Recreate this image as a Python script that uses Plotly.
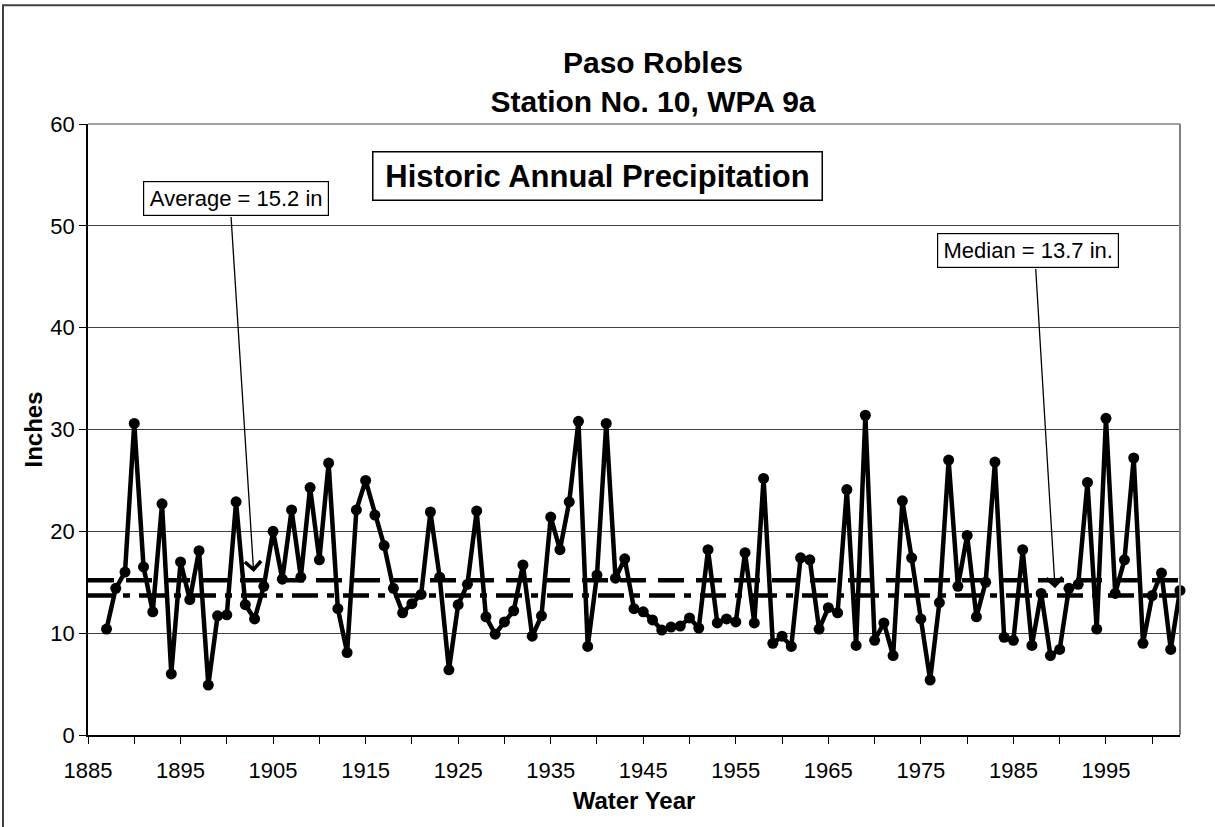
import plotly.graph_objects as go

# ---- data ----
years = list(range(1887, 2004))
precip = [10.4, 14.4, 16.0, 30.6, 16.5, 12.1, 22.7, 6.0, 17.0, 13.3,
          18.1, 4.9, 11.7, 11.8, 22.9, 12.8, 11.4, 14.6, 20.0, 15.3,
          22.1, 15.5, 24.3, 17.2, 26.7, 12.4, 8.1, 22.1, 25.0, 21.6,
          18.6, 14.4, 12.0, 12.9, 13.8, 21.9, 15.5, 6.4, 12.8, 14.8,
          22.0, 11.6, 9.9, 11.1, 12.2, 16.7, 9.7, 11.7, 21.4, 18.2,
          22.9, 30.8, 8.7, 15.7, 30.6, 15.4, 17.3, 12.4, 12.1, 11.3,
          10.3, 10.6, 10.7, 11.5, 10.5, 18.2, 11.0, 11.4, 11.1, 17.9,
          11.0, 25.2, 9.0, 9.7, 8.7, 17.4, 17.2, 10.4, 12.5, 12.0,
          24.1, 8.8, 31.4, 9.3, 11.0, 7.8, 23.0, 17.4, 11.4, 5.4,
          13.0, 27.0, 14.6, 19.6, 11.6, 15.0, 26.8, 9.6, 9.3, 18.2,
          8.8, 13.9, 7.8, 8.4, 14.4, 14.8, 24.8, 10.4, 31.1, 13.9,
          17.2, 27.2, 9.0, 13.7, 15.9, 8.4, 14.2]
average_value = 15.2
median_value = 13.7
x_span = [1885, 2003]
tick_years = [1885, 1890, 1895, 1900, 1905, 1910, 1915, 1920, 1925, 1930, 1935,
              1940, 1945, 1950, 1955, 1960, 1965, 1970, 1975, 1980, 1985, 1990,
              1995, 2000]
tick_labels = [str(y) if (y - 1885) % 10 == 0 else "" for y in tick_years]

FONT = "Liberation Sans, Arial, sans-serif"

fig = go.Figure()

fig.add_trace(go.Scatter(
    x=x_span, y=[average_value, average_value], mode="lines",
    line=dict(color="black", width=4.5, dash="26px,12px"),
    hoverinfo="skip", showlegend=False))
fig.add_trace(go.Scatter(
    x=x_span, y=[median_value, median_value], mode="lines",
    line=dict(color="black", width=4.5, dash="26px,9px,7px,9px"),
    hoverinfo="skip", showlegend=False))
fig.add_trace(go.Scatter(
    x=years, y=precip, mode="lines+markers",
    line=dict(color="black", width=4.5),
    marker=dict(color="black", size=11),
    cliponaxis=False, showlegend=False))

fig.update_layout(
    width=1215, height=827,
    margin=dict(l=88, r=35, t=124, b=92),
    paper_bgcolor="white", plot_bgcolor="white",
    font=dict(family=FONT, color="black", size=22),
    title=dict(text="<b>Paso Robles<br>Station No. 10, WPA 9a</b>",
               font=dict(family=FONT, size=30, color="black"),
               x=(653 - 88) / 1092, xref="paper", xanchor="center",
               y=1 - 73 / 827, yanchor="middle"),
    xaxis=dict(range=x_span, tickmode="array", tickvals=tick_years,
               ticktext=tick_labels, ticks="outside", ticklen=7,
               tickcolor="black", tickwidth=1, ticklabelstandoff=8,
               showline=True, linecolor="black", linewidth=1.5,
               showgrid=False, zeroline=False,
               tickfont=dict(size=22),
               title=dict(text="<b>Water Year</b>", font=dict(size=24),
                          standoff=10)),
    yaxis=dict(range=[0, 60], dtick=10, ticks="outside", ticklen=7,
               tickcolor="black", tickwidth=1,
               showline=True, linecolor="black", linewidth=1.5,
               showgrid=True, gridcolor="#404040", gridwidth=1,
               zeroline=False, tickfont=dict(size=22),
               title=dict(text="<b>Inches</b>", font=dict(size=24),
                          standoff=1)),
)

# plot-area top/right border (gray)
fig.add_shape(type="line", xref="paper", yref="paper", x0=1, x1=1, y0=0, y1=1,
              line=dict(color="#808080", width=2))
fig.add_shape(type="line", xref="paper", yref="paper", x0=0, x1=1, y0=1, y1=1,
              line=dict(color="#808080", width=1.5))
# chart-area frame (top and left visible)
fig.add_shape(type="rect", xref="paper", yref="paper",
              x0=(3 - 88) / 1092, x1=1.2, y0=-0.3, y1=(735 - 4) / 612,
              line=dict(color="#404040", width=2), layer="below")

# text boxes
fig.add_annotation(x=1940.1, y=54.9, xref="x", yref="y",
                   text="<b>Historic Annual Precipitation</b>",
                   font=dict(size=31), showarrow=False,
                   bordercolor="black", borderwidth=1.5, bgcolor="white",
                   width=446, height=45)
fig.add_annotation(x=1901.0, y=52.7, xref="x", yref="y",
                   text="Average = 15.2 in", font=dict(size=22), showarrow=False,
                   bordercolor="black", borderwidth=1.2, bgcolor="white",
                   width=182, height=31)
fig.add_annotation(x=1986.6, y=47.6, xref="x", yref="y",
                   text="Median = 13.7 in.", font=dict(size=22), showarrow=False,
                   bordercolor="black", borderwidth=1.2, bgcolor="white",
                   width=178, height=31)

# arrows
fig.add_annotation(x=1902.9, y=16.0, xref="x", yref="y",
                   ax=1900.45, ay=51.0, axref="x", ayref="y",
                   text="", showarrow=True, arrowhead=4, arrowsize=2.4,
                   arrowwidth=1.3, arrowcolor="black", standoff=0)
fig.add_annotation(x=1989.5, y=14.4, xref="x", yref="y",
                   ax=1987.4, ay=45.9, axref="x", ayref="y",
                   text="", showarrow=True, arrowhead=4, arrowsize=2.4,
                   arrowwidth=1.3, arrowcolor="black", standoff=0)

fig.write_html("out.html",
               config={"displayModeBar": False},
               post_script="document.body.style.margin='0px';"
                           "document.body.style.padding='0px';")
